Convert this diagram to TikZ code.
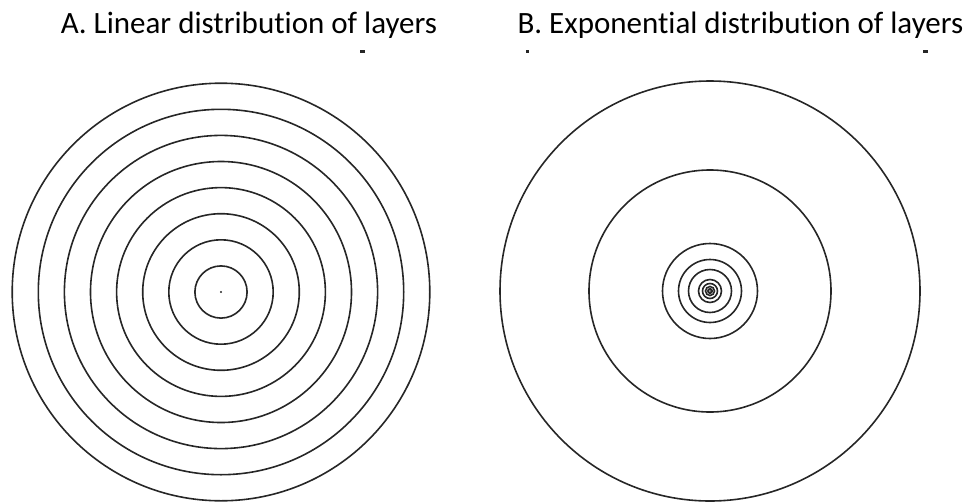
\documentclass[tikz,border=0pt]{standalone}
\usepackage{fontspec}
\setmainfont{Carlito}[Ligatures={NoCommon,NoRare,NoDiscretionary}]
\begin{document}
\begin{tikzpicture}[x=1pt,y=-1pt,
  ring/.style={draw=black!85,line width=1.6pt},
  title/.style={anchor=base,font=\fontsize{31}{36}\selectfont,inner sep=0pt},
  speck/.style={fill=black!85}]
\useasboundingbox (0,0) rectangle (972,501);
\coordinate (ca) at (221,292);
\coordinate (cb) at (710,291);
\node[title] (ta) at (249,33) {A. Linear distribution of layers};
\node[title] (tb) at (740.5,33) {B. Exponential distribution of layers};
% small specks under titles
\fill[speck] (360,50) rectangle (364.5,52.5);
\fill[speck] (525.5,49.5) rectangle (528.5,52.5);
\fill[speck] (922.5,50) rectangle (927.5,52.5);
% linear rings
\foreach \k in {1,...,8} {
  \draw[ring] (ca) circle[radius=26.1*\k];
}
\fill[black!85] (ca) circle[radius=1.1];
% exponential rings
\foreach \r in {210,121,47.5,31.5,21.5,11.5,7.5,4.5,2.2} {
  \draw[ring] (cb) circle[radius=\r];
}
\fill[black!85] (cb) circle[radius=1];
\end{tikzpicture}
\end{document}
